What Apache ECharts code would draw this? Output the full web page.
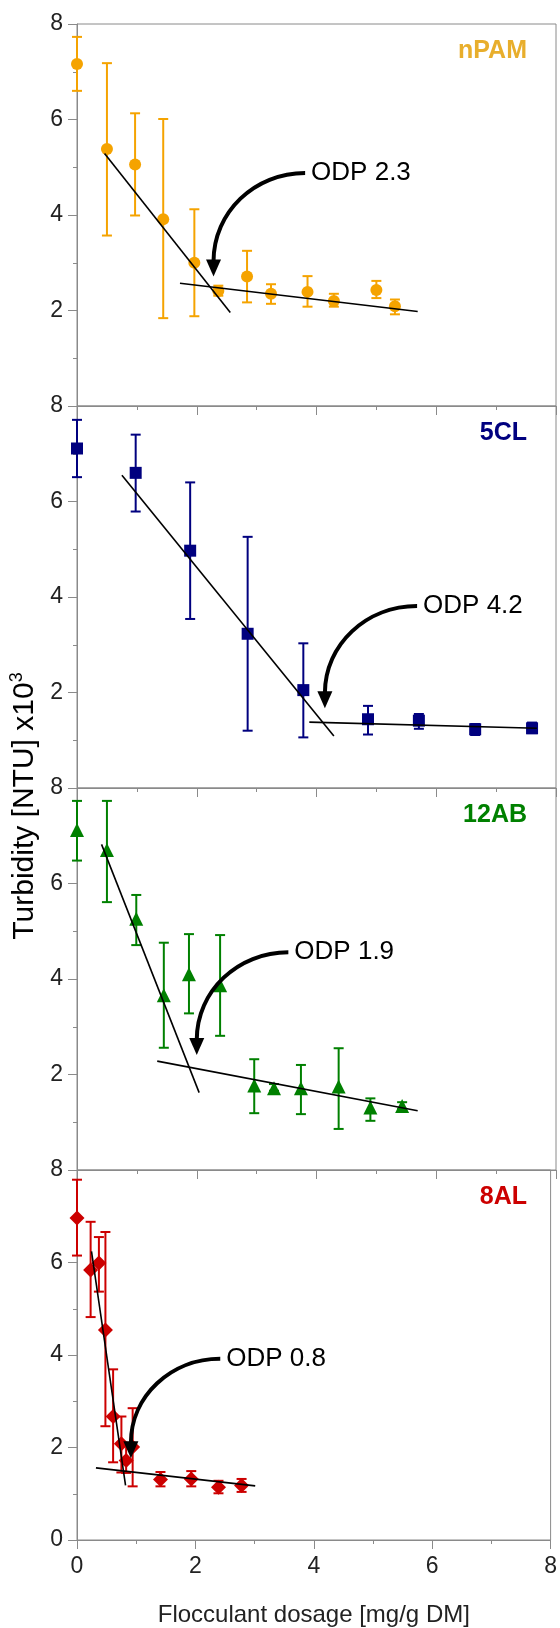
<!DOCTYPE html>
<html lang="en">
<head>
<meta charset="UTF-8">
<title>Turbidity vs flocculant dosage</title>
<script src="https://cdn.jsdelivr.net/npm/echarts@6/dist/echarts.min.js"></script>
<style>
  html, body { margin: 0; padding: 0; background: #fff; }
  #main { width: 560px; height: 1628px; }
</style>
</head>
<body>
<div id="main"></div>
<script>
// ---- data (x: mg/g DM, y: NTU x10^3) ----
var panelNames = ['nPAM', '5CL', '12AB', '8AL'];

var npamX  = [0, 0.50, 0.97, 1.44, 1.96, 2.36, 2.84, 3.24, 3.85, 4.29, 5.00, 5.31];
var npamY  = [7.16, 5.38, 5.06, 3.91, 3.00, 2.41, 2.71, 2.35, 2.39, 2.20, 2.43, 2.09];
var npamLo = [6.60, 3.57, 3.99, 1.84, 1.88, 2.31, 2.17, 2.14, 2.08, 2.08, 2.26, 1.92];
var npamHi = [7.73, 7.18, 6.13, 6.01, 4.12, 2.52, 3.25, 2.55, 2.72, 2.35, 2.62, 2.23];

var clX  = [0, 0.98, 1.89, 2.85, 3.78, 4.86, 5.71, 6.65, 7.60];
var clY  = [7.11, 6.60, 4.97, 3.23, 2.05, 1.44, 1.41, 1.23, 1.25];
var clLo = [6.51, 5.79, 3.54, 1.20, 1.06, 1.12, 1.24, 1.11, 1.15];
var clHi = [7.71, 7.40, 6.40, 5.26, 3.03, 1.72, 1.55, 1.34, 1.37];

var abX  = [0, 0.50, 0.99, 1.45, 1.87, 2.39, 2.96, 3.29, 3.74, 4.37, 4.90, 5.43];
var abY  = [7.12, 6.70, 5.26, 3.66, 4.10, 3.87, 1.77, 1.71, 1.71, 1.75, 1.31, 1.34];
var abLo = [6.48, 5.61, 4.71, 2.56, 3.28, 2.81, 1.19, 1.66, 1.17, 0.86, 1.03, 1.28];
var abHi = [7.73, 7.73, 5.76, 4.76, 4.94, 4.92, 2.32, 1.80, 2.20, 2.55, 1.50, 1.42];

var alX  = [0, 0.23, 0.37, 0.48, 0.61, 0.75, 0.83, 0.94, 1.41, 1.93, 2.39, 2.78];
var alY  = [6.96, 5.84, 5.99, 4.54, 2.67, 2.08, 1.72, 2.01, 1.31, 1.32, 1.14, 1.18];
var alLo = [6.15, 4.82, 5.37, 2.46, 1.68, 1.46, 1.45, 1.16, 1.16, 1.16, 1.01, 1.04];
var alHi = [7.79, 6.88, 6.55, 6.66, 3.69, 2.67, 2.10, 2.85, 1.47, 1.49, 1.28, 1.32];

// fitted lines, two segments per panel
var npamFit = [[[0.46, 5.29], [2.56, 1.96]], [[1.72, 2.57], [5.69, 1.98]]];
var clFit   = [[[0.75, 6.55], [4.29, 1.09]], [[3.88, 1.38], [7.68, 1.25]]];
var abFit   = [[[0.41, 6.82], [2.04, 1.62]], [[1.34, 2.28], [5.69, 1.24]]];
var alFit   = [[[0.245, 6.24], [0.82, 1.18]], [[0.32, 1.56], [3.01, 1.17]]];

// ODP annotations: label, arrow start [x, y], arrow tip [x, y]
var odpText  = ['ODP 2.3', 'ODP 4.2', 'ODP 1.9', 'ODP 0.8'];
var odpStart = [[3.81, 4.88], [5.68, 3.81], [3.53, 4.56], [2.42, 3.92]];
var odpTip   = [[2.28, 2.71], [4.14, 1.67], [2.00, 2.41], [0.91, 1.77]];

var xTicks = [0, 2, 4, 6, 8];
var yTicks = [0, 2, 4, 6, 8];

// ---- styling ----
var markerColors = ['#F5A300', '#00007F', '#008000', '#CC0000'];
var nameColors   = ['#E8AE2C', '#00007F', '#008000', '#CC0000'];
var symbols      = ['circle', 'rect', 'triangle', 'diamond'];
var symbolSizes  = [12, 12, 14, 15];
var axisGrey = '#8a8a8a';
var font = 'Liberation Sans, Arial, sans-serif';

var panelTop = [24, 406, 788, 1170];
var panelH = 382;

var sets = [
  { x: npamX, y: npamY, lo: npamLo, hi: npamHi, fit: npamFit },
  { x: clX,   y: clY,   lo: clLo,   hi: clHi,   fit: clFit },
  { x: abX,   y: abY,   lo: abLo,   hi: abHi,   fit: abFit },
  { x: alX,   y: alY,   lo: alLo,   hi: alHi,   fit: alFit }
];

function errorBarRender(color) {
  return function (params, api) {
    var x = api.value(0);
    var top = api.coord([x, api.value(2)]);
    var bot = api.coord([x, api.value(1)]);
    var w = 5;
    var st = { stroke: color, lineWidth: 2 };
    return {
      type: 'group',
      children: [
        { type: 'line', shape: { x1: top[0], y1: top[1], x2: bot[0], y2: bot[1] }, style: st },
        { type: 'line', shape: { x1: top[0] - w, y1: top[1], x2: top[0] + w, y2: top[1] }, style: st },
        { type: 'line', shape: { x1: bot[0] - w, y1: bot[1], x2: bot[0] + w, y2: bot[1] }, style: st }
      ]
    };
  };
}

function arrowRender(params, api) {
  var s = api.coord([api.value(0), api.value(1)]);
  var t = api.coord([api.value(2), api.value(3)]);
  var headLen = 17, headW = 15;
  var baseY = t[1] - headLen;
  var k = 0.55;
  return {
    type: 'group',
    children: [
      {
        type: 'bezierCurve',
        shape: {
          x1: s[0], y1: s[1],
          cpx1: s[0] - k * (s[0] - t[0]), cpy1: s[1],
          cpx2: t[0], cpy2: baseY - k * (baseY - s[1]),
          x2: t[0], y2: baseY + 2
        },
        style: { stroke: '#000', lineWidth: 4, fill: null }
      },
      {
        type: 'polygon',
        shape: { points: [[t[0] - headW / 2, baseY], [t[0] + headW / 2, baseY], [t[0], t[1]]] },
        style: { fill: '#000' }
      },
      {
        type: 'text',
        x: s[0] + 6, y: s[1],
        style: {
          text: odpText[api.value(4)],
          fontSize: 26, fontFamily: font, fill: '#000',
          align: 'left', verticalAlign: 'middle'
        }
      }
    ]
  };
}

var grids = [], xAxes = [], yAxes = [], series = [], titles = [];

panelNames.forEach(function (name, i) {
  grids.push({
    left: 77, width: 479, top: panelTop[i], height: panelH,
    show: true, borderColor: axisGrey, borderWidth: 1
  });
  xAxes.push({
    gridIndex: i, type: 'value', min: xTicks[0], max: xTicks[xTicks.length - 1], interval: 2,
    axisLine: { show: true, lineStyle: { color: axisGrey, width: 1 } },
    axisTick: { show: true, inside: false, length: 9, lineStyle: { color: axisGrey } },
    minorTick: { show: true, splitNumber: 2, length: 4, lineStyle: { color: axisGrey } },
    splitLine: { show: false },
    axisLabel: { show: i === 3, fontSize: 23, fontFamily: font, color: '#222', margin: 15 },
    name: i === 3 ? 'Flocculant dosage [mg/g DM]' : '',
    nameLocation: 'middle', nameGap: 63,
    nameTextStyle: { fontSize: 24, fontFamily: font, color: '#222' }
  });
  yAxes.push({
    gridIndex: i, type: 'value', min: yTicks[0], max: yTicks[yTicks.length - 1], interval: 2,
    axisLine: { show: true, lineStyle: { color: axisGrey, width: 1 } },
    axisTick: { show: true, inside: false, length: 9, lineStyle: { color: axisGrey } },
    minorTick: { show: true, splitNumber: 2, length: 4, lineStyle: { color: axisGrey } },
    splitLine: { show: false },
    axisLabel: {
      fontSize: 23, fontFamily: font, color: '#222', margin: 14,
      formatter: function (v) { return (v === 0 && i < 3) ? '' : String(v); }
    }
  });
  titles.push({
    text: name, right: 33, top: panelTop[i] + 15, padding: 0,
    textStyle: { fontSize: 25, fontWeight: 'bold', fontFamily: font, color: nameColors[i] }
  });

  var d = sets[i];
  var errData = d.x.map(function (x, j) { return [x, d.lo[j], d.hi[j]]; });
  var ptData = d.x.map(function (x, j) { return [x, d.y[j]]; });

  series.push({
    type: 'custom', xAxisIndex: i, yAxisIndex: i, z: 2,
    renderItem: errorBarRender(markerColors[i]), data: errData, silent: true
  });
  series.push({
    type: 'scatter', xAxisIndex: i, yAxisIndex: i, z: 3,
    symbol: symbols[i], symbolSize: symbolSizes[i],
    itemStyle: { color: markerColors[i], opacity: 1 }, data: ptData, silent: true
  });
  d.fit.forEach(function (seg) {
    series.push({
      type: 'line', xAxisIndex: i, yAxisIndex: i, z: 4,
      showSymbol: false, symbol: 'none',
      lineStyle: { color: '#000', width: 1.6 }, data: seg, silent: true
    });
  });
  series.push({
    type: 'custom', xAxisIndex: i, yAxisIndex: i, z: 5,
    renderItem: arrowRender, silent: true,
    data: [[odpStart[i][0], odpStart[i][1], odpTip[i][0], odpTip[i][1], i]]
  });
});

var chart = echarts.init(document.getElementById('main'), null, { renderer: 'canvas' });
chart.setOption({
  backgroundColor: '#fff',
  animation: false,
  title: titles,
  grid: grids,
  xAxis: xAxes,
  yAxis: yAxes,
  series: series,
  graphic: [{
    type: 'text',
    x: 25, y: 806, rotation: Math.PI / 2,
    style: {
      text: '{a|Turbidity [NTU] x10}{s|3}',
      align: 'center', verticalAlign: 'middle',
      rich: {
        a: { fontSize: 30, fontFamily: font, color: '#222' },
        s: { fontSize: 18, fontFamily: font, color: '#222', verticalAlign: 'top', lineHeight: 34 }
      }
    }
  }]
});
</script>
</body>
</html>
